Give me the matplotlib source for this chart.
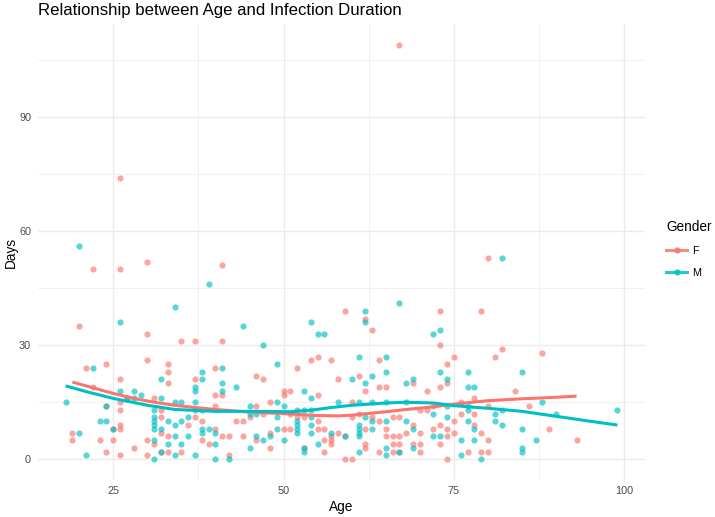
import matplotlib
matplotlib.use("Agg")
import matplotlib.pyplot as plt
from matplotlib.lines import Line2D

plt.rcParams['font.family'] = ['Liberation Sans', 'DejaVu Sans']

# points (age, days)
f_age = [20, 30, 30, 21, 24, 33, 33, 33, 26, 22, 27, 31, 26, 24, 26, 32, 32, 26, 26, 32, 19, 33, 19, 23,
         25, 30, 31, 28, 24, 33, 32, 26, 30, 25,
         22, 26, 30, 41, 26, 67, 80,
         35, 37, 41, 40, 37, 46, 47, 40, 41, 50, 51, 50, 48, 40, 46, 36, 38, 37, 40, 43, 44, 45, 47,
         51, 48, 46, 41, 42, 44, 38, 39, 48, 35, 42,
         59, 62, 63, 54, 55, 57, 52, 64, 61, 58, 64, 65, 62, 55, 60, 52, 53, 51, 55, 56, 55, 57, 57,
         57, 56, 58, 59, 60, 61, 62, 63, 64, 66, 67, 65, 65, 66, 67, 66, 67, 62, 62, 66, 67, 64, 56,
         53, 59, 60, 50,
         73, 79, 73, 75, 74, 82, 81, 74, 69, 73, 71, 84, 78, 76, 70, 71, 72, 80, 76, 78, 75, 78, 69,
         73, 72, 74, 79, 68, 70, 74, 75, 80, 73, 69, 70, 70, 77, 79, 80, 74,
         88, 86, 89, 93]
f_days = [35, 33, 26, 24, 25, 25, 23, 20, 21, 19, 16, 16, 15, 14, 13, 13, 11, 8, 9, 7, 7, 6, 5, 5,
          5, 5, 4, 3, 2, 2, 2, 1, 1, 8,
          50, 50, 52, 51, 74, 109, 53,
          31, 31, 31, 24, 21, 22, 21, 17, 17, 18, 18, 17, 15, 14, 14, 9, 10, 11, 8, 10, 10, 11, 12,
          12, 7, 5, 6, 6, 6, 5, 4, 3, 2, 1,
          39, 37, 34, 26, 27, 26, 24, 26, 22, 21, 19, 19, 18, 17, 15, 11, 11, 8, 8, 8, 10, 6, 5,
          4, 5, 7, 6, 11, 12, 8, 11, 10, 11, 11, 8, 6, 6, 6, 4, 4, 4, 3, 2, 2, 2, 2,
          3, 0, 0, 8,
          39, 39, 30, 27, 25, 29, 27, 20, 20, 19, 18, 18, 16, 15, 13, 13, 14, 14, 12, 12, 10, 9, 9,
          9, 8, 8, 7, 7, 7, 6, 7, 5, 4, 4, 4, 2, 2, 2, 2, 0,
          28, 14, 8, 5]

m_age = [34, 26, 22, 32, 26, 28, 29, 27, 28, 32, 18, 24, 31, 31, 31, 31, 33, 23, 24, 25, 31, 32, 20,
         31, 33, 32, 21, 31,
         20, 39, 82,
         44, 47, 49, 41, 38, 38, 41, 37, 37, 41, 43, 35, 37, 34, 49, 45, 50, 36, 34, 35, 38, 38, 39,
         40, 45, 46, 49, 48, 46, 49, 47, 50, 34, 36, 40, 35, 45, 34, 37, 40, 42, 37, 38,
         67, 62, 62, 54, 55, 56, 61, 65, 60, 62, 63, 65, 68, 53, 54, 58, 61, 63, 65, 52, 53, 54, 52,
         52, 52, 52, 54, 54, 54, 57, 59, 62, 61, 61, 61, 61, 63, 63, 65, 65, 65, 61, 53, 53, 55,
         72, 73, 73, 77, 74, 69, 77, 78, 68, 74, 77, 72, 77, 81, 82, 74, 68, 77, 81, 82, 69, 78, 72,
         73, 76, 78, 69, 67, 76, 79,
         85, 88, 90, 99, 85, 87, 85, 85]
m_days = [40, 36, 24, 21, 18, 18, 17, 16, 16, 16, 15, 14, 13, 11, 10, 9, 10, 10, 10, 8, 8, 8, 7,
          5, 4, 2, 1, 0,
          56, 46, 53,
          35, 30, 25, 24, 23, 21, 20, 19, 18, 18, 19, 15, 15, 15, 15, 14, 14, 11, 9, 10, 8, 7, 8,
          7, 12, 12, 11, 6, 6, 8, 5, 5, 6, 6, 4, 4, 3, 1, 1, 0, 0, 13, 13,
          41, 39, 36, 36, 33, 33, 27, 27, 21, 20, 22, 23, 20, 18, 16, 15, 15, 15, 15, 13, 13, 13, 10,
          9, 8, 7, 11, 9, 7, 7, 6, 11, 9, 8, 7, 6, 10, 8, 10, 3, 1, 2, 3, 2, 4,
          33, 34, 23, 23, 21, 21, 19, 19, 15, 14, 14, 12, 13, 12, 13, 11, 10, 10, 10, 9, 8, 8, 6,
          6, 5, 5, 3, 2, 1, 0,
          23, 15, 12, 13, 8, 5, 3, 2]

# smoothed trend lines
f_fit_age = [19, 22, 25, 28, 31, 34, 37, 40, 45, 50, 55, 58, 60, 65, 68, 72, 75, 80, 85, 90, 93]
f_fit_days = [20.3, 18.8, 17.3, 16.0, 15.0, 14.2, 13.6, 13.1, 12.4, 12.0, 11.5, 11.4, 11.6, 12.5,
              13.1, 13.8, 14.5, 15.4, 15.9, 16.3, 16.6]
m_fit_age = [18, 21, 25, 30, 34, 40, 46, 51, 54, 57, 60, 65, 68, 72, 75, 80, 85, 90, 95, 99]
m_fit_days = [19.3, 17.8, 16.0, 14.2, 13.1, 12.6, 12.6, 12.5, 12.9, 13.6, 14.2, 14.8, 15.0, 14.8,
              14.1, 13.4, 12.6, 11.3, 10.0, 9.0]

col_f = '#F8766D'
col_m = '#00BFC4'

fig = plt.figure(figsize=(7.15, 5.17), dpi=100)
ax = fig.add_axes([38/715., 37/517., 607/715., 456/517.])

ax.scatter(f_age, f_days, s=20, color=col_f, alpha=0.65, linewidths=0, zorder=2)
ax.scatter(m_age, m_days, s=20, color=col_m, alpha=0.65, linewidths=0, zorder=2)
ax.plot(f_fit_age, f_fit_days, color=col_f, lw=2.2, zorder=3, solid_capstyle='butt')
ax.plot(m_fit_age, m_fit_days, color=col_m, lw=2.2, zorder=3, solid_capstyle='butt')

ax.set_xlim(13.95, 103.05)
ax.set_ylim(-5.45, 114.45)
ax.set_xticks([25, 50, 75, 100])
ax.set_yticks([0, 30, 60, 90])
ax.set_xticks([37.5, 62.5, 87.5], minor=True)
ax.set_yticks([15, 45, 75, 105], minor=True)
ax.grid(which='major', color='#EBEBEB', lw=1.0)
ax.grid(which='minor', color='#EBEBEB', lw=0.5)
ax.set_axisbelow(True)
for s in ax.spines.values():
    s.set_visible(False)
ax.tick_params(which='both', length=0, labelsize=7.8, labelcolor='#4D4D4D')
ax.tick_params(axis='x', pad=4)
ax.tick_params(axis='y', pad=5)

ax.set_xlabel('Age', fontsize=9.8, labelpad=3)
ax.set_ylabel('Days', fontsize=9.8, labelpad=1)
fig.text(38/715., 1 - 10/517., 'Relationship between Age and Infection Duration',
         fontsize=12.1, ha='left', va='center')

handles = [Line2D([], [], color=col_f, lw=2.2, marker='o', markersize=4.5, alpha=0.85,
                  markerfacecolor=col_f, markeredgewidth=0),
           Line2D([], [], color=col_m, lw=2.2, marker='o', markersize=4.5, alpha=0.85,
                  markerfacecolor=col_m, markeredgewidth=0)]
leg = fig.legend(handles, ['F', 'M'], title='Gender', loc='upper left',
                 bbox_to_anchor=(666/715., 1 - 220/517.), frameon=False,
                 borderpad=0, borderaxespad=0,
                 fontsize=7.8, title_fontsize=9.8, handlelength=1.95,
                 handletextpad=0.5, labelspacing=1.1)
leg._legend_box.align = 'left'

fig.savefig('out.png', dpi=100)
